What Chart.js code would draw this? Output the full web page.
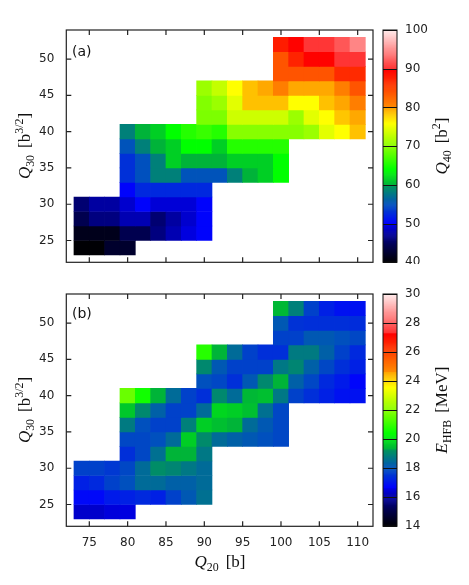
<!DOCTYPE html>
<html>
<head>
<meta charset="utf-8">
<script src="https://cdn.jsdelivr.net/npm/chart.js@4"></script>
<style>
  body { margin: 0; background: #fff; }
  #wrap { position: relative; width: 469px; height: 585px; }
  canvas { position: absolute; left: 0; }
  .lbl { position: absolute; transform: translate(-50%, -50%); white-space: nowrap;
         font-family: "Liberation Serif", "DejaVu Serif", serif; font-size: 17px; color: #111; }
  .rot { transform: translate(-50%, -50%) rotate(-90deg); }
  .lbl sub, .lbl sup { font-size: 70%; line-height: 0; }
  .lbl .gap { display: inline-block; width: 7px; }
  .tag { position: absolute; font-family: "DejaVu Sans", sans-serif; font-size: 14px; color: #111; transform: translateY(-50%); }
</style>
</head>
<body>
<div id="wrap">
  <canvas id="panelA" width="469" height="264" style="top:0"></canvas>
  <canvas id="panelB" width="469" height="321" style="top:264px"></canvas>

  <div class="tag" style="left:72px; top:51px">(a)</div>
  <div class="tag" style="left:72px; top:313px">(b)</div>

  <div class="lbl rot" style="left:25px; top:146px"><i>Q</i><sub>30</sub><span class="gap"></span>[b<sup>3/2</sup>]</div>
  <div class="lbl rot" style="left:25px; top:410px"><i>Q</i><sub>30</sub><span class="gap"></span>[b<sup>3/2</sup>]</div>
  <div class="lbl rot" style="left:442px; top:146px"><i>Q</i><sub>40</sub><span class="gap"></span>[b<sup>2</sup>]</div>
  <div class="lbl rot" style="left:442px; top:410px"><i>E</i><sub>HFB</sub><span class="gap"></span>[MeV]</div>
  <div class="lbl" style="left:220px; top:562px"><i>Q</i><sub>20</sub><span class="gap"></span>[b]</div>
</div>

<script>
/* grid: rows of Q30, first Q20 of each row, cell size */
const binWidth = 2;
const q30Rows = [24, 26, 28, 30, 32, 34, 36, 38, 40, 42, 44, 46, 48, 50, 52];
const q20First = [74, 74, 74, 74, 80, 80, 80, 80, 80, 90, 90, 90, 100, 100, 100];
const q20Ticks = [75, 80, 85, 90, 95, 100, 105, 110];
const q30Ticks = [25, 30, 35, 40, 45, 50];

/* (a) Q40 [b^2] */
const q40Values = [
  [40.2, 40.2, 42.5, 42.5],
  [41.5, 41.5, 41.5, 44.4, 44.4, 46.3, 48.1, 49.7, 50.2],
  [44.4, 46.3, 46.3, 48.1, 48.1, 45.8, 47.5, 49.1, 50.2],
  [45.8, 47.5, 47.5, 49.1, 50.2, 49.4, 49.4, 49.4, 50.2],
  [50.2, 52.5, 52.5, 52.5, 52.5, 52.5],
  [53, 55, 58.4, 58.4, 55.2, 55.2, 55.2, 58.4, 60.2, 61.6, 64],
  [53, 55, 58.4, 61.6, 60.2, 60.2, 60.2, 61.6, 61.6, 61.6, 64],
  [55.2, 58.4, 60.2, 61.6, 64, 64, 61.6, 65.6, 65.6, 65.6, 65.6],
  [58.4, 60.2, 61.6, 64, 65.6, 66.5, 65.6, 70, 70, 70, 70, 70, 71, 74.6, 76, 78.7],
  [69.5, 69.5, 73.5, 73.5, 73.5, 73.5, 71, 74.6, 76, 78.5, 79.8],
  [69.8, 71, 74.6, 78.7, 78.7, 78.7, 76, 76, 78.7, 79.9, 81],
  [71, 73, 76, 78.7, 79.8, 81, 79.8, 79.8, 79.8, 81, 84],
  [84, 84, 84, 84, 87, 87],
  [84, 87.5, 89.8, 89.8, 90.1, 90.1],
  [88, 89.8, 90.2, 90.2, 92, 94.5]
];

/* (b) E_HFB [MeV] */
const eHfbValues = [
  [16.4, 16.4, 16.55, 16.6],
  [16.8, 16.8, 17.1, 17.2, 17.35, 17.2, 17.75, 18.15, 18.6],
  [17.2, 17.35, 17.75, 18.0, 18.5, 18.5, 18.3, 18.3, 18.5],
  [17.75, 17.75, 17.6, 17.85, 18.5, 19.15, 19.0, 18.75, 18.5],
  [17.45, 17.85, 18.6, 19.4, 19.4, 18.75],
  [17.85, 17.85, 18.0, 18.5, 19.75, 19.1, 18.5, 18.3, 18.15, 18.0, 17.85],
  [18.8, 18.0, 17.75, 17.75, 18.9, 19.75, 19.55, 19.4, 18.5, 18.15, 17.85],
  [19.65, 19.05, 18.3, 17.75, 17.75, 18.5, 19.85, 19.75, 19.55, 18.6, 17.85],
  [21.65, 20.6, 19.4, 18.5, 17.75, 17.45, 19.05, 18.5, 19.45, 19.55, 18.75, 17.75, 17.45, 17.2, 16.95, 16.95],
  [18.0, 17.85, 17.45, 18.15, 19.05, 19.4, 18.3, 17.85, 17.35, 17.1, 16.75],
  [19.05, 18.15, 17.75, 17.75, 17.75, 18.75, 19.0, 18.3, 17.85, 17.45, 17.2],
  [20.85, 19.4, 18.5, 17.75, 17.45, 17.45, 18.8, 18.8, 18.3, 17.75, 17.35],
  [17.75, 17.75, 18.15, 18.15, 18.0, 17.85],
  [18.15, 17.5, 17.45, 17.45, 17.45, 17.4],
  [19.45, 18.9, 17.75, 17.2, 16.95, 16.95]
];

/* colour scale (fraction 0..1 -> rgb) */
const paletteStops = [
  [0.0, 0, 0, 0],
  [0.0833, 0, 0, 90],
  [0.1658, 0, 0, 230],
  [0.1667, 0, 0, 255],
  [0.25, 0, 80, 190],
  [0.3325, 0, 150, 90],
  [0.3333, 0, 175, 60],
  [0.4, 0, 255, 0],
  [0.5, 135, 255, 0],
  [0.6, 255, 255, 0],
  [0.6658, 255, 165, 0],
  [0.6667, 255, 140, 0],
  [0.75, 255, 70, 0],
  [0.8325, 255, 0, 0],
  [0.8333, 255, 50, 50],
  [1.0, 255, 235, 235]
];

function colormap(t) {
  t = Math.min(1, Math.max(0, t));
  for (let i = 1; i < paletteStops.length; i++) {
    const a = paletteStops[i - 1], b = paletteStops[i];
    if (t <= b[0]) {
      const f = (t - a[0]) / (b[0] - a[0] || 1);
      const c = [1, 2, 3].map(k => Math.round(a[k] + (b[k] - a[k]) * f));
      return `rgb(${c[0]},${c[1]},${c[2]})`;
    }
  }
  return "rgb(255,235,235)";
}

Chart.defaults.font.family = "'DejaVu Sans', sans-serif";
Chart.defaults.font.size = 12;
Chart.defaults.color = "#222";

/* frame, inward ticks and colour bar */
const framePlugin = {
  id: "frame",
  afterDatasetsDraw(chart) {
    const { ctx, chartArea: a, scales } = chart;
    ctx.save();
    ctx.strokeStyle = "#222";
    ctx.lineWidth = 1.2;

    ctx.beginPath();
    scales.x.ticks.forEach(t => {
      const px = scales.x.getPixelForValue(t.value);
      ctx.moveTo(px, a.bottom); ctx.lineTo(px, a.bottom - 5);
      ctx.moveTo(px, a.top); ctx.lineTo(px, a.top + 5);
    });
    scales.y.ticks.forEach(t => {
      const py = scales.y.getPixelForValue(t.value);
      ctx.moveTo(a.left, py); ctx.lineTo(a.left + 5, py);
      ctx.moveTo(a.right, py); ctx.lineTo(a.right - 5, py);
    });
    ctx.stroke();
    ctx.strokeRect(a.left, a.top, a.width, a.height);

    // colour bar
    const cb = scales.cb;
    const x0 = a.right + 10, w = 14, n = 240;
    for (let i = 0; i < n; i++) {
      const v0 = cb.min + (cb.max - cb.min) * i / n;
      const v1 = cb.min + (cb.max - cb.min) * (i + 1) / n;
      const yTop = cb.getPixelForValue(v1), yBot = cb.getPixelForValue(v0);
      ctx.fillStyle = colormap((i + 0.5) / n);
      ctx.fillRect(x0, yTop, w, yBot - yTop + 0.6);
    }
    ctx.lineWidth = 1;
    ctx.strokeStyle = "#111";
    ctx.beginPath();
    cb.ticks.forEach(t => {
      const py = Math.round(cb.getPixelForValue(t.value)) + 0.5;
      ctx.moveTo(x0, py); ctx.lineTo(x0 + w, py);
    });
    ctx.stroke();
    ctx.strokeRect(x0, cb.top, w, cb.bottom - cb.top);
    ctx.restore();
  }
};

function makePanel(id, values, lo, hi, step, showX, canvasH) {
  const cells = [];
  q30Rows.forEach((q30, i) => {
    values[i].forEach((v, j) => {
      cells.push({ x: q20First[i] + j * binWidth, y: [q30 - binWidth / 2, q30 + binWidth / 2], v: v });
    });
  });

  // vertical axes: fixed width, no extra label padding in the layout
  const fixWidth = w => s => { s.width = w; s.paddingTop = 0; s.paddingBottom = 0; };

  return new Chart(document.getElementById(id), {
    type: "bar",
    data: {
      datasets: [{
        data: cells,
        xAxisID: "x",
        yAxisID: "y",
        backgroundColor: c => c.raw ? colormap((c.raw.v - lo) / (hi - lo)) : "transparent",
        borderWidth: 0,
        barPercentage: 1,
        categoryPercentage: 1
      }]
    },
    options: {
      responsive: false,
      animation: false,
      devicePixelRatio: 1,
      layout: { padding: { top: 30, left: 0, right: 0, bottom: 0 } },
      plugins: { legend: { display: false }, tooltip: { enabled: false } },
      scales: {
        x: {
          type: "linear", min: 72, max: 112, offset: false,
          grid: { display: false, offset: false, drawTicks: false },
          border: { display: false },
          ticks: { color: showX ? "#222" : "rgba(0,0,0,0)", padding: 9, maxRotation: 0, autoSkip: false },
          afterBuildTicks: s => { s.ticks = q20Ticks.map(v => ({ value: v })); },
          afterFit: s => { s.height = canvasH - 262.3; s.paddingLeft = 0; s.paddingRight = 0; }
        },
        y: {
          type: "linear", min: 22, max: 54,
          grid: { display: false, drawTicks: false },
          border: { display: false },
          ticks: { padding: 12, autoSkip: false },
          afterBuildTicks: s => { s.ticks = q30Ticks.map(v => ({ value: v })); },
          afterFit: fixWidth(66.3)
        },
        cb: {
          type: "linear", position: "right", min: lo, max: hi,
          grid: { display: false, drawTicks: false },
          border: { display: false },
          ticks: { stepSize: step, padding: 32, autoSkip: false },
          afterFit: fixWidth(96)
        }
      }
    },
    plugins: [framePlugin]
  });
}

makePanel("panelA", q40Values, 40, 100, 10, false, 264);
makePanel("panelB", eHfbValues, 14, 30, 2, true, 321);
</script>
</body>
</html>
